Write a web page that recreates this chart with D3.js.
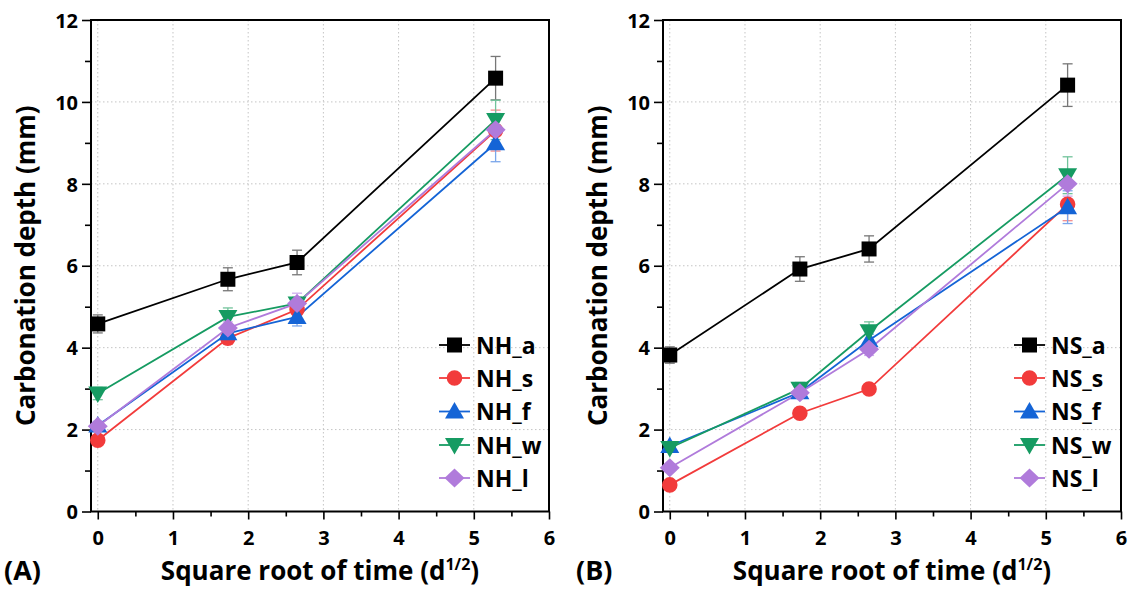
<html>
<head>
<meta charset="UTF-8">
<script src="https://d3js.org/d3.v7.min.js"></script>
<style>
    body { margin: 0; background: #fff; }
    text { font-family: "Open Sans", "DejaVu Sans", sans-serif; font-weight: 700; fill: #000; }
</style>
</head>
<body>
<svg width="1129" height="590" id="canvas"></svg>
<script>
    // x positions (square root of time, d^1/2)
    var times = [0, 1.73, 2.65, 5.29];

    // panel A
    var namesA = ["NH_a", "NH_s", "NH_f", "NH_w", "NH_l"];
    var NH_a = [4.58, 5.67, 6.08, 10.58];
    var NH_s = [1.74, 4.23, 4.93, 9.30];
    var NH_f = [2.10, 4.35, 4.75, 8.99];
    var NH_w = [2.88, 4.75, 5.08, 9.56];
    var NH_l = [2.08, 4.48, 5.08, 9.32];
    var errNH_a = [0.22, 0.28, 0.30, 0.53];
    var errNH_s = [0.10, 0.15, 0.15, 0.50];
    var errNH_f = [0.10, 0.15, 0.22, 0.45];
    var errNH_w = [0.15, 0.22, 0.15, 0.48];
    var errNH_l = [0.08, 0.15, 0.25, 0.40];

    // panel B
    var namesB = ["NS_a", "NS_s", "NS_f", "NS_w", "NS_l"];
    var NS_a = [3.82, 5.92, 6.41, 10.41];
    var NS_s = [0.65, 2.40, 2.99, 7.50];
    var NS_f = [1.60, 2.91, 4.18, 7.43];
    var NS_w = [1.55, 3.00, 4.40, 8.21];
    var NS_l = [1.07, 2.90, 3.96, 8.00];
    var errNS_a = [0.20, 0.30, 0.32, 0.52];
    var errNS_s = [0.05, 0.08, 0.08, 0.40];
    var errNS_f = [0.08, 0.12, 0.15, 0.40];
    var errNS_w = [0.08, 0.15, 0.23, 0.45];
    var errNS_l = [0.08, 0.12, 0.15, 0.30];

    var xTicks = [0, 1, 2, 3, 4, 5, 6];
    var yTicks = [0, 2, 4, 6, 8, 10, 12];

    var colors = ["#000000", "#f23b3b", "#1464d6", "#169b62", "#b07bdb"];
    var errColors = ["#777777", "#f58c8c", "#7aa6ea", "#72c39b", "#cfaeee"];
    var shapes = ["square", "circle", "up", "down", "diamond"];

    var svg = d3.select("#canvas");

    function markerPath(shape) {
        if (shape == "square") return "M-7.5,-7.5H7.5V7.5H-7.5Z";
        if (shape == "circle") return d3.symbol(d3.symbolCircle, 190)();
        if (shape == "up") return "M0,-9.5L9.5,7H-9.5Z";
        if (shape == "down") return "M0,9.5L9.5,-7H-9.5Z";
        return "M0,-9.5L10,0L0,9.5L-10,0Z";
    }

    function drawPanel(left, names, series, errs, label, legendX) {
        var top = 20, bottom = 511.5, right = left + 458;
        var x = d3.scaleLinear().domain([-0.09, 6]).range([left, right]);
        var y = d3.scaleLinear().domain([0, 12]).range([bottom, top]);

        var g = svg.append("g");

        // grid
        g.selectAll(".gx").data(xTicks.filter(d => d < 6)).enter().append("line")
            .attr("x1", d => x(d)).attr("x2", d => x(d))
            .attr("y1", top).attr("y2", bottom)
            .attr("stroke", "#c4c4c4").attr("stroke-width", 1)
            .attr("stroke-dasharray", "1.5,2.5");
        g.selectAll(".gy").data(yTicks.filter(d => d > 0 && d < 12)).enter().append("line")
            .attr("x1", left).attr("x2", right)
            .attr("y1", d => y(d)).attr("y2", d => y(d))
            .attr("stroke", "#c4c4c4").attr("stroke-width", 1)
            .attr("stroke-dasharray", "1.5,2.5");

        // axes
        var xAxis = g.append("g")
            .attr("transform", "translate(0," + bottom + ")")
            .call(d3.axisBottom(x).tickValues(xTicks).tickFormat(d3.format("d")).tickSize(8).tickPadding(7));
        var xMinor = g.append("g")
            .attr("transform", "translate(0," + bottom + ")")
            .call(d3.axisBottom(x).tickValues([0.5, 1.5, 2.5, 3.5, 4.5, 5.5]).tickSize(5).tickFormat(""));
        var yAxis = g.append("g")
            .attr("transform", "translate(" + left + ",0)")
            .call(d3.axisLeft(y).tickValues(yTicks).tickFormat(d3.format("d")).tickSize(9).tickPadding(4));
        var yMinor = g.append("g")
            .attr("transform", "translate(" + left + ",0)")
            .call(d3.axisLeft(y).tickValues([1, 3, 5, 7, 9, 11]).tickSize(6).tickFormat(""));

        [xAxis, xMinor, yAxis, yMinor].forEach(function (a) {
            a.select(".domain").remove();
            a.selectAll("line").attr("stroke", "#000").attr("stroke-width", 1.6);
            a.selectAll("text").style("font-size", "20px").attr("fill", "#000");
        });
        xAxis.selectAll("text").attr("dy", "0.9em");
        yAxis.selectAll("text").attr("dy", "0.36em");

        // frame
        g.append("rect")
            .attr("x", left).attr("y", top)
            .attr("width", right - left).attr("height", bottom - top)
            .attr("fill", "none").attr("stroke", "#000").attr("stroke-width", 2);

        // error bars
        series.forEach(function (s, i) {
            var e = errs[i];
            var eb = g.append("g").attr("stroke", errColors[i]).attr("stroke-width", 1.3);
            s.forEach(function (v, j) {
                var cx = x(times[j]);
                eb.append("line").attr("x1", cx).attr("x2", cx)
                    .attr("y1", y(v - e[j])).attr("y2", y(v + e[j]));
                eb.append("line").attr("x1", cx - 5).attr("x2", cx + 5)
                    .attr("y1", y(v - e[j])).attr("y2", y(v - e[j]));
                eb.append("line").attr("x1", cx - 5).attr("x2", cx + 5)
                    .attr("y1", y(v + e[j])).attr("y2", y(v + e[j]));
            });
        });

        // lines
        var line = d3.line().x((d, j) => x(times[j])).y(d => y(d));
        series.forEach(function (s, i) {
            g.append("path").datum(s)
                .attr("d", line)
                .attr("fill", "none")
                .attr("stroke", colors[i])
                .attr("stroke-width", 1.8);
        });

        // markers
        series.forEach(function (s, i) {
            g.selectAll(".m" + i).data(s).enter().append("path")
                .attr("d", markerPath(shapes[i]))
                .attr("transform", (d, j) => "translate(" + x(times[j]) + "," + y(d) + ")")
                .attr("fill", colors[i]);
        });

        // legend
        var legY = [345, 378, 411.5, 445, 478];
        names.forEach(function (n, i) {
            var lg = g.append("g").attr("transform", "translate(" + legendX + "," + legY[i] + ")");
            lg.append("line").attr("x1", 0).attr("x2", 31).attr("y1", 0).attr("y2", 0)
                .attr("stroke", colors[i]).attr("stroke-width", 1.8);
            lg.append("path").attr("d", markerPath(shapes[i]))
                .attr("transform", "translate(15.5,0)")
                .attr("fill", colors[i]);
            lg.append("text").attr("x", 37).attr("y", 8.5)
                .style("font-size", "23px").text(n);
        });

        // axis titles
        var xt = g.append("text")
            .attr("x", (left + right) / 2).attr("y", 580)
            .attr("text-anchor", "middle")
            .style("font-size", "26px");
        xt.append("tspan").text("Square root of time (d");
        xt.append("tspan").attr("dy", -10).style("font-size", "16px").text("1/2");
        xt.append("tspan").attr("dy", 10).text(")");

        g.append("text")
            .attr("transform", "translate(" + (left - 56) + "," + ((top + bottom) / 2) + ") rotate(-90)")
            .attr("text-anchor", "middle")
            .style("font-size", "26px")
            .text("Carbonation depth (mm)");

        g.append("text")
            .attr("x", left - 87).attr("y", 580)
            .style("font-size", "27px")
            .text(label);
    }

    drawPanel(91, namesA, [NH_a, NH_s, NH_f, NH_w, NH_l],
        [errNH_a, errNH_s, errNH_f, errNH_w, errNH_l], "(A)", 439);
    drawPanel(663, namesB, [NS_a, NS_s, NS_f, NS_w, NS_l],
        [errNS_a, errNS_s, errNS_f, errNS_w, errNS_l], "(B)", 1014);
</script>
</body>
</html>
